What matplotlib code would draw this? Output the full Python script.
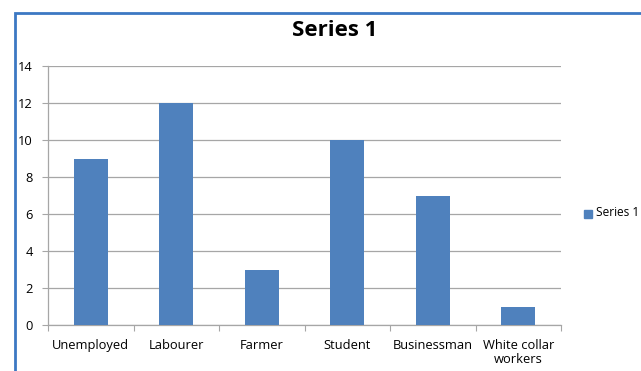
import matplotlib.pyplot as plt
import matplotlib.patches as mpatches
import numpy as np

categories = ['Unemployed', 'Labourer', 'Farmer', 'Student', 'Businessman', 'White collar\nworkers']
values = [9, 12, 3, 10, 7, 1]
series_name = 'Series 1'
bar_color = '#4f81bd'

W, H = 641, 371
fig = plt.figure(figsize=(W / 100, H / 100), dpi=100)
plt.rcParams['font.family'] = ['Open Sans', 'DejaVu Sans']

# plot area in pixels
left, right, top, bottom = 48, 561, 66, 325
ax = fig.add_axes([left / W, 1 - bottom / H, (right - left) / W, (bottom - top) / H])

x = np.arange(len(categories))
ax.bar(x, values, width=0.4, color=bar_color, zorder=3)
ax.set_xlim(-0.5, len(categories) - 0.5)
ax.set_ylim(0, 14)
ax.set_yticks(range(0, 15, 2))
ax.yaxis.grid(True, color='#a6a6a6', linewidth=0.9, zorder=0)

for s in ['top', 'right']:
    ax.spines[s].set_visible(False)
for s in ['left', 'bottom']:
    ax.spines[s].set_color('#a6a6a6')
    ax.spines[s].set_linewidth(0.9)

ax.set_xticks(np.arange(-0.5, len(categories), 1.0))
ax.set_xticklabels([])
ax.set_xticks(x, minor=True)
ax.set_xticklabels(categories, minor=True, fontsize=9.3, linespacing=1.15)
ax.tick_params(axis='x', which='major', length=4, color='#a6a6a6', direction='out')
ax.tick_params(axis='x', which='minor', length=0, pad=10)
ax.tick_params(axis='y', length=4, color='#a6a6a6', labelsize=9.3, pad=7)

fig.text(335 / W, 1 - 31 / H, series_name, ha='center', va='center',
         fontsize=16, fontweight='bold')

# legend
fig.patches.append(mpatches.Rectangle((584 / W, 1 - 218 / H), 8 / W, 8 / H,
                                      color=bar_color, transform=fig.transFigure))
fig.text(596 / W, 1 - 213 / H, series_name, ha='left', va='center', fontsize=8.6)

# chart border (blue frame, partly cut off)
fig.patches.append(mpatches.Rectangle((14.5 / W, -0.1), 1.2, 1 - 12.5 / H + 0.1,
                                      fill=False, edgecolor='#3c78c3', linewidth=2,
                                      transform=fig.transFigure))

fig.savefig('out.png', dpi=100)
